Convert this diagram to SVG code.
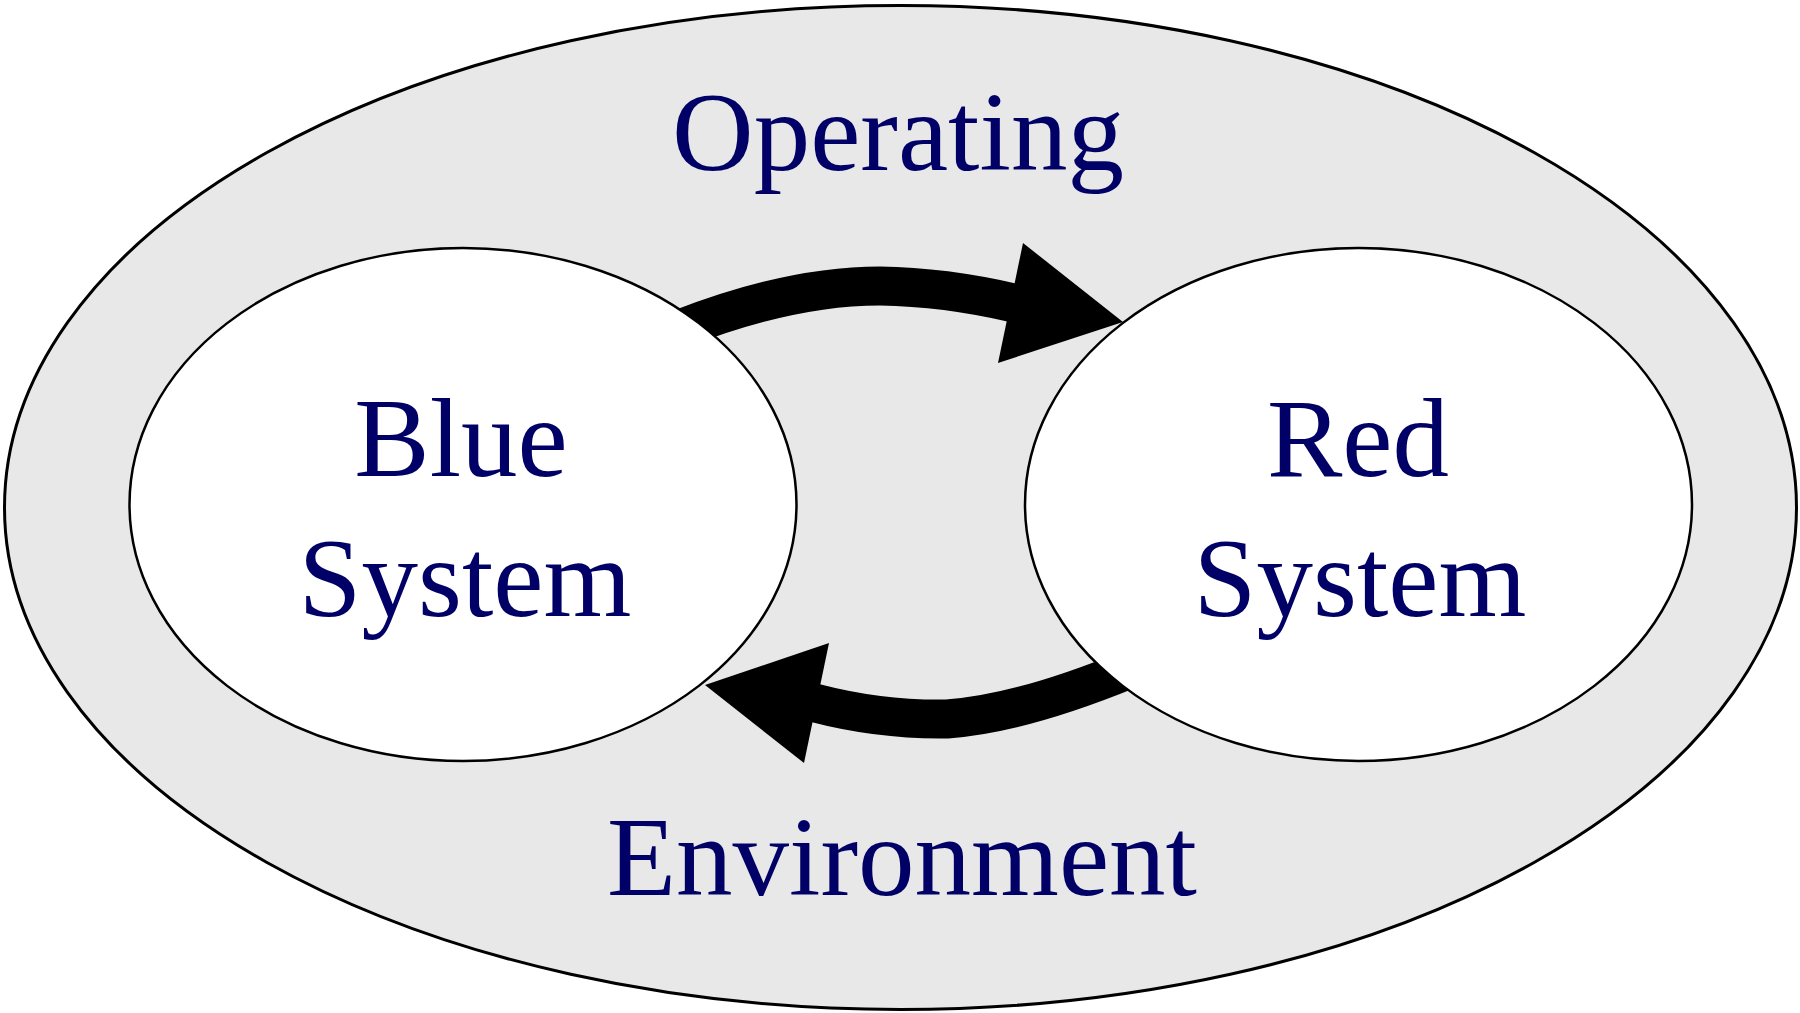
<svg xmlns="http://www.w3.org/2000/svg" width="1800" height="1013" viewBox="0 0 1800 1013">
<style>
.lbl{font-family:"Liberation Serif","Times New Roman",serif;font-size:113px;fill:#000066;text-anchor:middle}
.sys{fill:#ffffff;stroke:#000000;stroke-width:2.5}
.shaft{fill:none;stroke:#000000;stroke-width:39;stroke-linecap:butt}
.head{fill:#000000;stroke:none}
</style>
<rect x="0" y="0" width="1800" height="1013" fill="#ffffff"/>
<g id="environment">
<ellipse cx="900.5" cy="507.5" rx="896" ry="502" fill="#e8e8e8" stroke="#000000" stroke-width="3"/>
<text class="lbl" x="898" y="170">Operating</text>
<text class="lbl" x="902" y="895">Environment</text>
</g>
<g id="connectors">
<path class="shaft" d="M 680,329 Q 790,286 880,286 Q 945,287 1014,303"/>
<polygon class="head" points="1023,243 1123,322 998,363"/>
<path class="shaft" d="M 1130,669 Q 1020,714 947,719 Q 880,720 815,703"/>
<polygon class="head" points="829,643 705,685 804,763"/>
</g>
<g id="blue-system">
<ellipse class="sys" cx="463" cy="504.5" rx="333.5" ry="256.5"/>
<text class="lbl" x="461" y="476">Blue</text>
<text class="lbl" x="465" y="616">System</text>
</g>
<g id="red-system">
<ellipse class="sys" cx="1358.5" cy="504.5" rx="333.5" ry="256.5"/>
<text class="lbl" x="1358" y="476">Red</text>
<text class="lbl" x="1360" y="616">System</text>
</g>
</svg>
